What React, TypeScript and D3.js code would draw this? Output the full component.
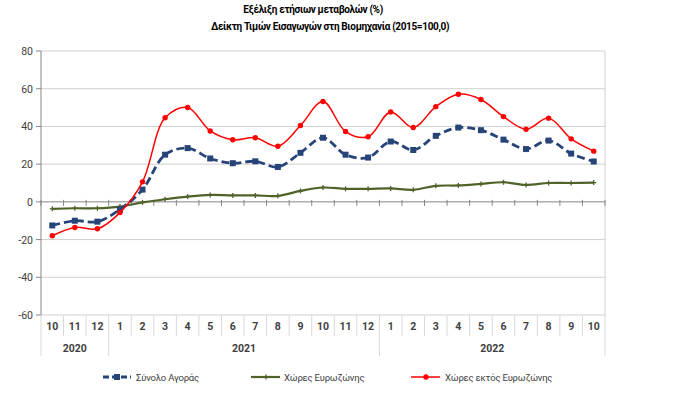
import React from 'react';
import * as d3 from 'd3';

const months = ['10', '11', '12', '1', '2', '3', '4', '5', '6', '7', '8', '9', '10', '11', '12', '1', '2', '3', '4', '5', '6', '7', '8', '9', '10'];
const years = [
    { label: '2020', count: 3 },
    { label: '2021', count: 12 },
    { label: '2022', count: 10 }
];
const yTicks = [80, 60, 40, 20, 0, -20, -40, -60];

const totalMarket = [-12.5, -10, -10.5, -4, 6.5, 25, 28.5, 23, 20.5, 21.5, 18.5, 26, 34, 25, 23.5, 32, 27.5, 35, 39.4, 38, 33, 28, 32.5, 25.6, 21.4];
const eurozone = [-3.7, -3.4, -3.4, -2.5, -0.3, 1.4, 2.8, 3.7, 3.4, 3.4, 3.2, 5.8, 7.6, 6.9, 6.9, 7.1, 6.4, 8.5, 8.7, 9.5, 10.4, 9, 10, 10, 10.2];
const nonEurozone = [-18, -13.6, -14.3, -5.7, 10.6, 44.6, 50, 37.6, 32.9, 34, 29.5, 40.5, 53.2, 37.3, 34.5, 47.7, 39.4, 50.5, 57.1, 54.3, 45.2, 38.5, 44.4, 33.4, 26.9];

const BLUE = '#264478';
const GREEN = '#4f6228';
const RED = '#ff0000';
const TXT = '#404040';
const FONT = 'Roboto, "Open Sans", sans-serif';

const App = () => {
    const margin = { top: 51, left: 41, right: 95, bottom: 78 };
    const width = 700;
    const height = 393;

    const x = d3.scaleBand()
        .domain(months.map((m, i) => String(i)))
        .range([margin.left, width - margin.right]);
    const y = d3.scaleLinear()
        .domain([-60, 80])
        .range([height - margin.bottom, margin.top]);

    const cx = (i: number) => (x(String(i)) as number) + x.bandwidth() / 2;
    const line = d3.line<number>()
        .x((d, i) => cx(i))
        .y(d => y(d))
        .curve(d3.curveCatmullRom.alpha(0.5));

    const x0 = margin.left;
    const x1 = width - margin.right;
    const yBottom = y(-60);

    let acc = 0;
    const yearBounds = years.map(yr => {
        const start = acc;
        acc += yr.count;
        return { ...yr, start, end: acc };
    });

    return (
        <div style={{ position: 'fixed', left: 0, top: 0 }}>
            <svg width={width} height={height} style={{ display: 'block', background: '#fff' }}>
                <g fontFamily={FONT} fontWeight="bold" fontSize="10px" letterSpacing="-0.35px" fill="#000" textAnchor="middle">
                    <text x={313} y={13}>Εξέλιξη ετήσιων μεταβολών (%)</text>
                    <text x={330} y={30}>Δείκτη Τιμών Εισαγωγών στη Βιομηχανία (2015=100,0)</text>
                </g>

                {/* gridlines */}
                {yTicks.map(t =>
                    <g key={t}>
                        {t !== 0 && <line x1={x0} x2={x1} y1={y(t)} y2={y(t)} stroke="#d0d0d0" strokeWidth={1} />}
                        <line x1={x0 - 5} x2={x0} y1={y(t)} y2={y(t)} stroke="#868686" />
                        <text x={x0 - 8} y={y(t) + 4} textAnchor="end" fontFamily={FONT} fontSize="10.5px" fill={TXT}>{t}</text>
                    </g>
                )}
                <line x1={x1} x2={x1} y1={margin.top} y2={yBottom} stroke="#d0d0d0" />
                <line x1={x0} x2={x1} y1={y(0)} y2={y(0)} stroke="#868686" />
                {months.map((m, i) =>
                    <line key={'zt' + i} x1={x(String(i)) as number} x2={x(String(i)) as number} y1={y(0) - 2} y2={y(0) + 4} stroke="#868686" />
                )}
                <line x1={x1} x2={x1} y1={y(0) - 2} y2={y(0) + 4} stroke="#868686" />
                <line x1={x0} x2={x0} y1={margin.top} y2={yBottom} stroke="#868686" />

                {/* category axis table */}
                {months.map((m, i) => {
                    const left = x(String(i)) as number;
                    const isYear = yearBounds.some(b => b.start === i);
                    return (
                        <g key={'c' + i}>
                            <line x1={left} x2={left} y1={yBottom} y2={isYear ? 356 : 336} stroke="#d9d9d9" />
                            <text x={cx(i)} y={330} textAnchor="middle" fontFamily={FONT} fontWeight="bold" fontSize="10.5px" fill={TXT}>{m}</text>
                        </g>
                    );
                })}
                <line x1={x1} x2={x1} y1={yBottom} y2={356} stroke="#d9d9d9" />
                {yearBounds.map(b =>
                    <text key={b.label} x={((x(String(b.start)) as number) + (x(String(b.end - 1)) as number) + x.bandwidth()) / 2} y={352}
                        textAnchor="middle" fontFamily={FONT} fontWeight="bold" fontSize="10.5px" fill={TXT}>{b.label}</text>
                )}

                {/* series */}
                <path d={line(eurozone) as string} fill="none" stroke={GREEN} strokeWidth={2.2} />
                {eurozone.map((d, i) =>
                    <g key={'g' + i} stroke={GREEN} strokeWidth={1.3}>
                        <line x1={cx(i) - 2.5} x2={cx(i) + 2.5} y1={y(d)} y2={y(d)} />
                        <line x1={cx(i)} x2={cx(i)} y1={y(d) - 2.5} y2={y(d) + 2.5} />
                    </g>
                )}
                <path d={line(totalMarket) as string} fill="none" stroke={BLUE} strokeWidth={2.8} strokeDasharray="8,4" />
                {totalMarket.map((d, i) =>
                    <rect key={'b' + i} x={cx(i) - 3} y={y(d) - 3} width={6} height={6} fill={BLUE} />
                )}
                <path d={line(nonEurozone) as string} fill="none" stroke={RED} strokeWidth={1.5} />
                {nonEurozone.map((d, i) =>
                    <circle key={'r' + i} cx={cx(i)} cy={y(d)} r={2.7} fill={RED} />
                )}

                {/* legend */}
                <g fontFamily={FONT} fontSize="9.5px" letterSpacing="-0.2px" fill={TXT}>
                    <line x1={103} x2={131} y1={377} y2={377} stroke={BLUE} strokeWidth={2.8} strokeDasharray="6,3" />
                    <rect x={114} y={374} width={6} height={6} fill={BLUE} />
                    <text x={136} y={380.5}>Σύνολο Αγοράς</text>

                    <line x1={251} x2={280} y1={377} y2={377} stroke={GREEN} strokeWidth={2.2} />
                    <line x1={263.5} x2={268.5} y1={377} y2={377} stroke={GREEN} strokeWidth={1.3} />
                    <line x1={266} x2={266} y1={374.5} y2={379.5} stroke={GREEN} strokeWidth={1.3} />
                    <text x={284} y={380.5}>Χώρες Ευρωζώνης</text>

                    <line x1={411} x2={440} y1={377} y2={377} stroke={RED} strokeWidth={1.5} />
                    <circle cx={426} cy={377} r={2.7} fill={RED} />
                    <text x={445} y={380.5}>Χώρες εκτός Ευρωζώνης</text>
                </g>
            </svg>
        </div>
    );
};

export default App;
